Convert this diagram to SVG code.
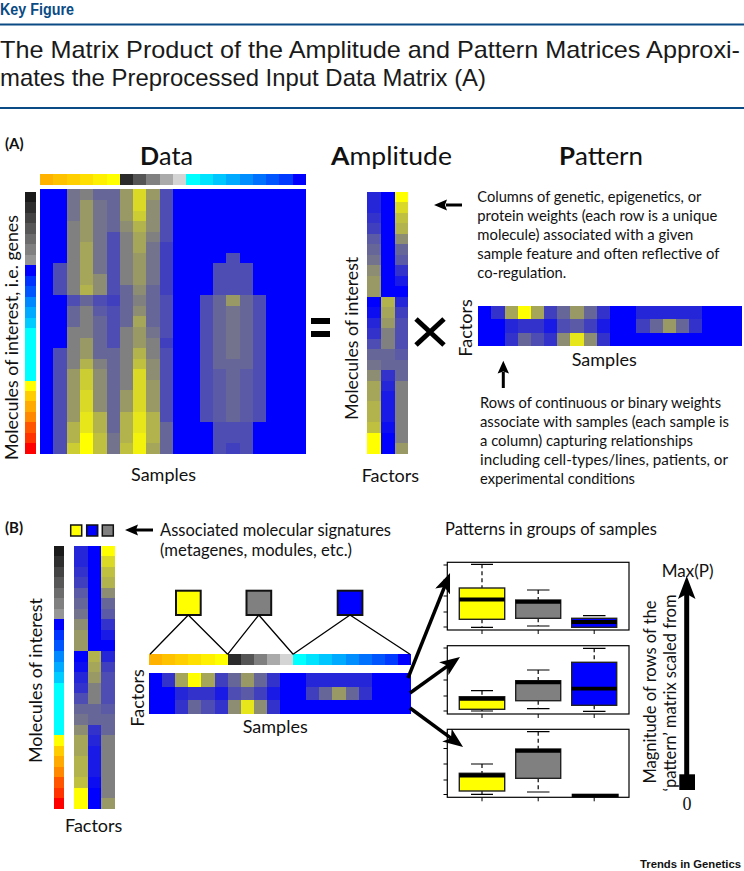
<svg xmlns="http://www.w3.org/2000/svg" width="744" height="871" viewBox="0 0 744 871">
<style>
text{font-family:Lato,"Liberation Sans",sans-serif;fill:#111}
.s15{font-size:15px}
.s17{font-size:17px}
.s18{font-size:18px}
.ttl{font-size:25px}
.hd{font-family:"Liberation Sans",Arial,sans-serif}
.b{font-weight:bold}
.hm{shape-rendering:crispEdges}
.L0{fill:#0000ff}.L05{fill:#0d0df2}.L1{fill:#1a1ae6}.L15{fill:#2626d9}.L2{fill:#3333cc}.L25{fill:#4040bf}
.L3{fill:#4d4db3}.L35{fill:#5a5aa6}.L4{fill:#666699}.L45{fill:#73738d}.L5{fill:#808080}.L55{fill:#8d8d73}
.L6{fill:#999966}.L65{fill:#a6a65a}.L7{fill:#b3b34d}.L75{fill:#c0c040}.L8{fill:#cccc33}.L85{fill:#d9d926}
.L9{fill:#e6e61a}.L95{fill:#f2f20d}.L10{fill:#ffff00}
.frame{fill:#fff;stroke:#000;stroke-width:1.2}
.box{stroke:#222;stroke-width:1.4}
.med{stroke:#000;stroke-width:3.8}
.wh{stroke:#000;stroke-width:1.2;stroke-dasharray:4 3;fill:none}
.cap{stroke:#000;stroke-width:1.2;fill:none}
.tick{stroke:#000;stroke-width:1;fill:none}
.conn{stroke:#000;stroke-width:1.3;fill:none}
.big{stroke:#000;stroke-width:3.5;fill:none;marker-end:url(#ah)}
.sq{stroke:#111;stroke-width:2}
.sqs{stroke:#111;stroke-width:1.5}
</style>
<defs>
<marker id="ah" viewBox="0 0 20 16" markerWidth="20" markerHeight="16" refX="10" refY="8" orient="auto" markerUnits="userSpaceOnUse"><path d="M0,0 L20,8 L0,16 L5,8 Z" fill="#000"/></marker>
<g id="colbar">
<rect x="0" y="0" width="1" height="1" fill="#ffb300"/><rect x="1" y="0" width="1" height="1" fill="#ffc200"/><rect x="2" y="0" width="1" height="1" fill="#ffcf00"/><rect x="3" y="0" width="1" height="1" fill="#ffdf00"/><rect x="4" y="0" width="1" height="1" fill="#ffef00"/><rect x="5" y="0" width="1" height="1" fill="#ffff00"/>
<rect x="6" y="0" width="1" height="1" fill="#2b2b2b"/><rect x="7" y="0" width="1" height="1" fill="#555555"/><rect x="8" y="0" width="1" height="1" fill="#808080"/><rect x="9" y="0" width="1" height="1" fill="#aaaaaa"/><rect x="10" y="0" width="1" height="1" fill="#d4d4d4"/>
<rect x="11" y="0" width="1" height="1" fill="#00ffff"/><rect x="12" y="0" width="1" height="1" fill="#00e3ff"/><rect x="13" y="0" width="1" height="1" fill="#00c6ff"/><rect x="14" y="0" width="1" height="1" fill="#00aaff"/><rect x="15" y="0" width="1" height="1" fill="#008eff"/><rect x="16" y="0" width="1" height="1" fill="#0071ff"/><rect x="17" y="0" width="1" height="1" fill="#0055ff"/><rect x="18" y="0" width="1" height="1" fill="#0039ff"/><rect x="19" y="0" width="1" height="1" fill="#0000ff"/>
</g>
<g id="rowbar">
<rect x="0" y="0" width="1" height="1" fill="#1a1a1a"/><rect x="0" y="1" width="1" height="1" fill="#2e2e2e"/><rect x="0" y="2" width="1" height="1" fill="#434343"/><rect x="0" y="3" width="1" height="1" fill="#575757"/><rect x="0" y="4" width="1" height="1" fill="#6c6c6c"/><rect x="0" y="5" width="1" height="1" fill="#808080"/><rect x="0" y="6" width="1" height="1" fill="#959595"/>
<rect x="0" y="7" width="1" height="1" fill="#0000ff"/><rect x="0" y="8" width="1" height="1" fill="#0033ff"/><rect x="0" y="9" width="1" height="1" fill="#0055ff"/><rect x="0" y="10" width="1" height="1" fill="#0088ff"/><rect x="0" y="11" width="1" height="1" fill="#00aaff"/><rect x="0" y="12" width="1" height="1" fill="#00ccff"/><rect x="0" y="13" width="1" height="5" fill="#00ffff"/>
<rect x="0" y="18" width="1" height="1" fill="#ffff00"/><rect x="0" y="19" width="1" height="1" fill="#ffcc00"/><rect x="0" y="20" width="1" height="1" fill="#ffaa00"/><rect x="0" y="21" width="1" height="1" fill="#ff8800"/><rect x="0" y="22" width="1" height="1" fill="#ff5500"/><rect x="0" y="23" width="1" height="1" fill="#ff3300"/><rect x="0" y="24" width="1" height="1" fill="#ff0000"/>
</g>
<g id="ampcells">
<rect class="L0" x="0" y="0" width="3" height="25"/>
<rect class="L15" x="0" y="0" width="1" height="2"/><rect class="L2" x="0" y="2" width="1" height="1"/><rect class="L25" x="0" y="3" width="1" height="1"/><rect class="L35" x="0" y="4" width="1" height="1"/><rect class="L4" x="0" y="5" width="1" height="1"/><rect class="L45" x="0" y="6" width="1" height="1"/><rect class="L55" x="0" y="7" width="1" height="1"/><rect class="L6" x="0" y="8" width="1" height="2"/><rect class="L05" x="0" y="11" width="1" height="1"/><rect class="L15" x="0" y="12" width="1" height="1"/><rect class="L2" x="0" y="13" width="1" height="1"/><rect class="L3" x="0" y="14" width="1" height="1"/><rect class="L4" x="0" y="15" width="1" height="1"/><rect class="L45" x="0" y="16" width="1" height="1"/><rect class="L55" x="0" y="17" width="1" height="1"/><rect class="L65" x="0" y="18" width="1" height="2"/><rect class="L7" x="0" y="20" width="1" height="2"/><rect class="L75" x="0" y="22" width="1" height="1"/><rect class="L10" x="0" y="23" width="1" height="2"/>
<rect class="L7" x="1" y="10" width="1" height="1"/><rect class="L65" x="1" y="11" width="1" height="1"/><rect class="L6" x="1" y="12" width="1" height="1"/><rect class="L5" x="1" y="13" width="1" height="2"/><rect class="L4" x="1" y="15" width="1" height="2"/><rect class="L2" x="1" y="17" width="1" height="1"/><rect class="L15" x="1" y="18" width="1" height="1"/><rect class="L1" x="1" y="19" width="1" height="3"/><rect class="L05" x="1" y="22" width="1" height="1"/>
<rect class="L10" x="2" y="0" width="1" height="1"/><rect class="L85" x="2" y="1" width="1" height="1"/><rect class="L75" x="2" y="2" width="1" height="1"/><rect class="L7" x="2" y="3" width="1" height="1"/><rect class="L55" x="2" y="4" width="1" height="1"/><rect class="L4" x="2" y="5" width="1" height="1"/><rect class="L35" x="2" y="6" width="1" height="1"/><rect class="L2" x="2" y="7" width="1" height="1"/><rect class="L1" x="2" y="8" width="1" height="1"/><rect class="L15" x="2" y="10" width="1" height="1"/><rect class="L25" x="2" y="11" width="1" height="1"/><rect class="L3" x="2" y="12" width="1" height="3"/><rect class="L35" x="2" y="15" width="1" height="1"/><rect class="L4" x="2" y="16" width="1" height="2"/><rect class="L5" x="2" y="18" width="1" height="6"/><rect class="L6" x="2" y="24" width="1" height="1"/>
</g>
<g id="patcells">
<rect class="L0" x="0" y="0" width="20" height="3"/>
<rect class="L2" x="1" y="0" width="1" height="1"/><rect class="L65" x="2" y="0" width="1" height="1"/><rect class="L10" x="3" y="0" width="1" height="1"/><rect class="L65" x="4" y="0" width="1" height="1"/><rect class="L25" x="5" y="0" width="1" height="1"/><rect class="L4" x="6" y="0" width="1" height="1"/><rect class="L6" x="7" y="0" width="1" height="1"/><rect class="L4" x="8" y="0" width="1" height="1"/><rect class="L2" x="9" y="0" width="1" height="1"/><rect class="L15" x="12" y="0" width="5" height="1"/>
<rect class="L15" x="2" y="1" width="1" height="1"/><rect class="L2" x="3" y="1" width="2" height="1"/><rect class="L1" x="5" y="1" width="1" height="1"/><rect class="L3" x="6" y="1" width="1" height="1"/><rect class="L35" x="7" y="1" width="1" height="1"/><rect class="L25" x="8" y="1" width="1" height="1"/><rect class="L1" x="9" y="1" width="1" height="1"/><rect class="L25" x="12" y="1" width="1" height="1"/><rect class="L4" x="13" y="1" width="1" height="1"/><rect class="L6" x="14" y="1" width="1" height="1"/><rect class="L4" x="15" y="1" width="1" height="1"/><rect class="L2" x="16" y="1" width="1" height="1"/>
<rect class="L2" x="2" y="2" width="1" height="1"/><rect class="L4" x="3" y="2" width="1" height="1"/><rect class="L3" x="4" y="2" width="1" height="1"/><rect class="L2" x="5" y="2" width="1" height="1"/><rect class="L55" x="6" y="2" width="1" height="1"/><rect class="L9" x="7" y="2" width="1" height="1"/><rect class="L55" x="8" y="2" width="1" height="1"/><rect class="L2" x="9" y="2" width="1" height="1"/>
</g>
</defs>

<rect width="744" height="871" fill="#fff"/>

<g id="header">
<text class="hd b" x="0" y="15" font-size="16" style="fill:#0a4b85" textLength="74" lengthAdjust="spacingAndGlyphs">Key Figure</text>
<rect x="0" y="23.5" width="744" height="2" fill="#0a4b85"/>
<text class="hd" x="0" y="58" font-size="24" style="fill:#1a1a1a" textLength="740" lengthAdjust="spacingAndGlyphs">The Matrix Product of the Amplitude and Pattern Matrices Approxi-</text>
<text class="hd" x="0" y="86" font-size="24" style="fill:#1a1a1a" textLength="486" lengthAdjust="spacingAndGlyphs">mates the Preprocessed Input Data Matrix (A)</text>
<rect x="0" y="107" width="744" height="2" fill="#0a4b85"/>
</g>

<g id="panel-a-label"><text class="b" x="5" y="149" font-size="15">(A)</text></g>

<g id="data-title"><text class="ttl" x="140" y="165" textLength="53" lengthAdjust="spacingAndGlyphs"><tspan class="b">D</tspan>ata</text></g>
<g id="amplitude-title"><text class="ttl" x="331" y="165" textLength="121" lengthAdjust="spacingAndGlyphs"><tspan class="b">A</tspan>mplitude</text></g>
<g id="pattern-title"><text class="ttl" x="559" y="165" textLength="84" lengthAdjust="spacingAndGlyphs"><tspan class="b">P</tspan>attern</text></g>

<g id="data-colbar"><use class="hm" href="#colbar" transform="translate(40,174) scale(13.3,11)"/></g>
<g id="data-rowbar"><use class="hm" href="#rowbar" transform="translate(25,191.7) scale(11,10.49)"/></g>

<g id="data-matrix">
<g class="hm" transform="translate(40,189.4) scale(13.3,10.58)">
<rect class="L0" x="0" y="0" width="20" height="25"/>
<rect class="L3" x="1" y="7" width="1" height="3"/><rect class="L3" x="1" y="15" width="1" height="10"/>
<rect class="L45" x="2" y="0" width="1" height="3"/><rect class="L5" x="2" y="3" width="1" height="7"/><rect class="L3" x="2" y="10" width="1" height="1"/><rect class="L4" x="2" y="11" width="1" height="2"/><rect class="L5" x="2" y="13" width="1" height="4"/><rect class="L6" x="2" y="17" width="1" height="5"/><rect class="L7" x="2" y="22" width="1" height="2"/><rect class="L8" x="2" y="24" width="1" height="1"/>
<rect class="L5" x="3" y="0" width="1" height="1"/><rect class="L6" x="3" y="1" width="1" height="4"/><rect class="L65" x="3" y="5" width="1" height="4"/><rect class="L7" x="3" y="9" width="1" height="1"/><rect class="L4" x="3" y="10" width="1" height="1"/><rect class="L5" x="3" y="11" width="1" height="3"/><rect class="L6" x="3" y="14" width="1" height="2"/><rect class="L7" x="3" y="16" width="1" height="1"/><rect class="L8" x="3" y="17" width="1" height="2"/><rect class="L85" x="3" y="19" width="1" height="2"/><rect class="L9" x="3" y="21" width="1" height="2"/><rect class="L10" x="3" y="23" width="1" height="2"/>
<rect class="L4" x="4" y="0" width="1" height="1"/><rect class="L45" x="4" y="1" width="1" height="7"/><rect class="L55" x="4" y="8" width="1" height="2"/><rect class="L3" x="4" y="10" width="1" height="1"/><rect class="L35" x="4" y="11" width="1" height="1"/><rect class="L4" x="4" y="12" width="1" height="4"/><rect class="L5" x="4" y="16" width="1" height="1"/><rect class="L55" x="4" y="17" width="1" height="4"/><rect class="L7" x="4" y="21" width="1" height="2"/><rect class="L75" x="4" y="23" width="1" height="2"/>
<rect class="L4" x="5" y="0" width="1" height="4"/><rect class="L3" x="5" y="4" width="1" height="6"/><rect class="L25" x="5" y="10" width="1" height="1"/><rect class="L3" x="5" y="11" width="1" height="4"/><rect class="L4" x="5" y="15" width="1" height="8"/><rect class="L45" x="5" y="23" width="1" height="2"/>
<rect class="L6" x="6" y="0" width="1" height="3"/><rect class="L55" x="6" y="3" width="1" height="1"/><rect class="L5" x="6" y="4" width="1" height="5"/><rect class="L4" x="6" y="9" width="1" height="4"/><rect class="L5" x="6" y="13" width="1" height="6"/><rect class="L6" x="6" y="19" width="1" height="2"/><rect class="L7" x="6" y="21" width="1" height="3"/><rect class="L75" x="6" y="24" width="1" height="1"/>
<rect class="L85" x="7" y="0" width="1" height="2"/><rect class="L8" x="7" y="2" width="1" height="1"/><rect class="L7" x="7" y="3" width="1" height="1"/><rect class="L65" x="7" y="4" width="1" height="2"/><rect class="L6" x="7" y="6" width="1" height="3"/><rect class="L55" x="7" y="9" width="1" height="1"/><rect class="L5" x="7" y="10" width="1" height="1"/><rect class="L55" x="7" y="11" width="1" height="1"/><rect class="L65" x="7" y="12" width="1" height="1"/><rect class="L6" x="7" y="13" width="1" height="2"/><rect class="L7" x="7" y="15" width="1" height="1"/><rect class="L75" x="7" y="16" width="1" height="1"/><rect class="L85" x="7" y="17" width="1" height="4"/><rect class="L9" x="7" y="21" width="1" height="2"/><rect class="L95" x="7" y="23" width="1" height="2"/>
<rect class="L6" x="8" y="0" width="1" height="1"/><rect class="L55" x="8" y="1" width="1" height="3"/><rect class="L5" x="8" y="4" width="1" height="1"/><rect class="L45" x="8" y="5" width="1" height="4"/><rect class="L4" x="8" y="9" width="1" height="4"/><rect class="L45" x="8" y="13" width="1" height="1"/><rect class="L5" x="8" y="14" width="1" height="2"/><rect class="L55" x="8" y="16" width="1" height="2"/><rect class="L6" x="8" y="18" width="1" height="3"/><rect class="L7" x="8" y="21" width="1" height="3"/><rect class="L65" x="8" y="24" width="1" height="1"/>
<rect class="L3" x="9" y="0" width="1" height="5"/><rect class="L25" x="9" y="5" width="1" height="5"/><rect class="L3" x="9" y="10" width="1" height="4"/><rect class="L25" x="9" y="14" width="1" height="1"/><rect class="L3" x="9" y="15" width="1" height="7"/><rect class="L4" x="9" y="22" width="1" height="3"/>
<rect class="L3" x="12" y="10" width="1" height="12"/>
<rect class="L3" x="13" y="7" width="1" height="3"/><rect class="L4" x="13" y="10" width="1" height="7"/><rect class="L35" x="13" y="17" width="1" height="5"/><rect class="L3" x="13" y="22" width="1" height="3"/>
<rect class="L3" x="14" y="6" width="1" height="4"/><rect class="L6" x="14" y="10" width="1" height="1"/><rect class="L45" x="14" y="11" width="1" height="5"/><rect class="L4" x="14" y="16" width="1" height="6"/><rect class="L3" x="14" y="22" width="1" height="2"/><rect class="L25" x="14" y="24" width="1" height="1"/>
<rect class="L3" x="15" y="7" width="1" height="3"/><rect class="L4" x="15" y="10" width="1" height="7"/><rect class="L35" x="15" y="17" width="1" height="5"/><rect class="L3" x="15" y="22" width="1" height="3"/>
<rect class="L3" x="16" y="10" width="1" height="12"/>
</g>
</g>

<g id="data-ylabel"><text transform="translate(17.5,337.5) rotate(-90)" text-anchor="middle" font-size="17.5" textLength="245" lengthAdjust="spacingAndGlyphs">Molecules of interest, i.e. genes</text></g>
<g id="data-xlabel"><text class="s18" x="131" y="481">Samples</text></g>

<g id="equals"><rect x="311" y="318" width="19" height="6" fill="#000"/><rect x="311" y="331" width="19" height="6" fill="#000"/></g>

<g id="amplitude-matrix"><use class="hm" href="#ampcells" transform="translate(367.3,191.7) scale(13.67,10.49)"/></g>
<g id="amp-ylabel"><text class="s18" transform="translate(358,338.3) rotate(-90)" text-anchor="middle" textLength="163" lengthAdjust="spacingAndGlyphs">Molecules of interest</text></g>
<g id="amp-xlabel"><text class="s18" x="361.7" y="481.7">Factors</text></g>

<g id="times"><path d="M416,319 L444,345 M444,319 L416,345" stroke="#000" stroke-width="5" fill="none"/></g>

<g id="pattern-matrix"><use class="hm" href="#patcells" transform="translate(478.3,305.7) scale(13.17,13.43)"/></g>
<g id="pat-ylabel"><text class="s18" transform="translate(471.7,328) rotate(-90)" text-anchor="middle">Factors</text></g>
<g id="pat-xlabel"><text class="s18" x="571.7" y="366">Samples</text></g>

<g id="amp-note">
<text class="s15" x="477.3" y="201.5" textLength="224" lengthAdjust="spacingAndGlyphs">Columns of genetic, epigenetics, or</text>
<text class="s15" x="477.3" y="220.5" textLength="240" lengthAdjust="spacingAndGlyphs">protein weights (each row is a unique</text>
<text class="s15" x="477.3" y="239.5" textLength="216" lengthAdjust="spacingAndGlyphs">molecule) associated with a given</text>
<text class="s15" x="477.3" y="258.5" textLength="242" lengthAdjust="spacingAndGlyphs">sample feature and often reflective of</text>
<text class="s15" x="477.3" y="277.5" textLength="89" lengthAdjust="spacingAndGlyphs">co-regulation.</text>
</g>
<g id="pat-note">
<text class="s15" x="480" y="407.5" textLength="241" lengthAdjust="spacingAndGlyphs">Rows of continuous or binary weights</text>
<text class="s15" x="480" y="426.5" textLength="249" lengthAdjust="spacingAndGlyphs">associate with samples (each sample is</text>
<text class="s15" x="480" y="445.5" textLength="213" lengthAdjust="spacingAndGlyphs">a column) capturing relationships</text>
<text class="s15" x="480" y="464.5" textLength="248" lengthAdjust="spacingAndGlyphs">including cell-types/lines, patients, or</text>
<text class="s15" x="480" y="483.5" textLength="155" lengthAdjust="spacingAndGlyphs">experimental conditions</text>
</g>

<g id="panel-b-label"><text class="b" x="5" y="533" font-size="15">(B)</text></g>
<g id="signature-keys">
<rect class="sqs" x="70.7" y="525" width="11" height="11" fill="#ffff00"/>
<rect class="sqs" x="86.7" y="525" width="11" height="11" fill="#0000ff"/>
<rect class="sqs" x="102.3" y="525" width="11" height="11" fill="#808080"/>
</g>
<g id="signature-note">
<text class="s17" x="160" y="536" textLength="231" lengthAdjust="spacingAndGlyphs">Associated molecular signatures</text>
<text class="s17" x="160" y="556" textLength="192" lengthAdjust="spacingAndGlyphs">(metagenes, modules, etc.)</text>
</g>
<g id="groups-title"><text class="s17" x="445" y="535" textLength="212" lengthAdjust="spacingAndGlyphs">Patterns in groups of samples</text></g>

<g id="b-rowbar"><use class="hm" href="#rowbar" transform="translate(54,545.7) scale(10.3,10.53)"/></g>
<g id="b-amplitude-matrix"><use class="hm" href="#ampcells" transform="translate(74,545.7) scale(13.67,10.53)"/></g>
<g id="b-ylabel"><text class="s18" transform="translate(41.5,680.5) rotate(-90)" text-anchor="middle" textLength="165" lengthAdjust="spacingAndGlyphs">Molecules of interest</text></g>
<g id="b-amp-xlabel"><text class="s18" x="65" y="831.7">Factors</text></g>

<g id="group-yellow"><rect class="sq" x="176" y="590.7" width="24.7" height="24.3" fill="#ffff00"/></g>
<g id="group-gray"><rect class="sq" x="246.5" y="590.7" width="24.7" height="24.3" fill="#808080"/></g>
<g id="group-blue"><rect class="sq" x="337.7" y="590.7" width="24.7" height="24.3" fill="#0000ff"/></g>

<g id="b-colbar"><use class="hm" href="#colbar" transform="translate(149,654.3) scale(13.1,10.7)"/></g>
<g id="b-pattern-matrix"><use class="hm" href="#patcells" transform="translate(149,673.3) scale(13.1,13.57)"/></g>
<g id="b-pat-ylabel"><text class="s18" transform="translate(144,698) rotate(-90)" text-anchor="middle">Factors</text></g>
<g id="b-pat-xlabel"><text class="s18" x="242.7" y="733.3">Samples</text></g>

<g id="boxplot-1">
<rect class="frame" x="447.3" y="562.3" width="181.7" height="67.7"/>
<path class="tick" d="M443.5 565H447.3M443.5 580H447.3M443.5 596H447.3M443.5 612H447.3M443.5 627H447.3M482 630V634M538.2 630V634M594.2 630V634"/>
<path class="wh" d="M482 564.3V588M482 619.3V627.3M538.2 590V600M538.2 618.3V626"/>
<path class="cap" d="M471 564.3H493M471 627.3H493M527 590H549.5M527 626H549.5M583 615.7H605.5M583 627.5H605.5"/>
<rect class="box" x="459.3" y="588" width="45.4" height="31.3" fill="#ffff00"/>
<rect class="box" x="515.7" y="600" width="45" height="18.3" fill="#808080"/>
<rect class="box" x="571.7" y="618.3" width="45" height="9" fill="#0000ff"/>
<path class="med" d="M459.3 599.5H504.7M515.7 601.8H560.7M571.7 622H616.7"/>
</g>
<g id="boxplot-2">
<rect class="frame" x="447.3" y="645.7" width="181.7" height="68.3"/>
<path class="tick" d="M443.5 648H447.3M443.5 663H447.3M443.5 680H447.3M443.5 696H447.3M443.5 711H447.3M482 714V718M538.2 714V718M594.2 714V718"/>
<path class="wh" d="M482 690.7V696.7M482 709.3V711M538.2 670V680.7M538.2 700.7V708.7M594.2 648.3V662.3M594.2 705.3V711.3"/>
<path class="cap" d="M471 690.7H493M471 711H493M527 670H549.5M527 708.7H549.5M583 648.3H605.5M583 711.3H605.5"/>
<rect class="box" x="459.3" y="696.7" width="45.4" height="12.6" fill="#ffff00"/>
<rect class="box" x="515.7" y="680.7" width="45" height="20" fill="#808080"/>
<rect class="box" x="571.7" y="662.3" width="45" height="43" fill="#0000ff"/>
<path class="med" d="M459.3 698.8H504.7M515.7 682.4H560.7M571.7 688.7H616.7"/>
</g>
<g id="boxplot-3">
<rect class="frame" x="447.3" y="729.3" width="181.7" height="68"/>
<path class="tick" d="M443.5 733H447.3M443.5 748.5H447.3M443.5 764H447.3M443.5 780H447.3M443.5 794.5H447.3M482 797.3V801.3M538.2 797.3V801.3M594.2 797.3V801.3"/>
<path class="wh" d="M482 764V773.3M482 791V794.3M538.2 731.7V749M538.2 778.3V792"/>
<path class="cap" d="M471 764H493M471 794.3H493M527 731.7H549.5M527 792H549.5"/>
<rect class="box" x="459.3" y="773.3" width="45.4" height="17.7" fill="#ffff00"/>
<rect class="box" x="515.7" y="749" width="45" height="29.3" fill="#808080"/>
<path class="med" d="M459.3 775.5H504.7M515.7 750.8H560.7"/>
<rect x="571.7" y="793.7" width="47" height="3.6" fill="#000"/>
</g>

<g id="scale-axis">
<text class="s17" x="661.7" y="576.5">Max(P)</text>
<rect x="684.2" y="592" width="5" height="184" fill="#000"/>
<polygon points="686.7,576 695.5,599 686.7,594 678,599" fill="#000"/>
<rect x="679.3" y="774.3" width="15.7" height="15.7" fill="#000"/>
<text x="687" y="810" text-anchor="middle" style="font-family:'Liberation Serif',serif;font-size:18px">0</text>
<text class="s17" transform="translate(656,692) rotate(-90)" text-anchor="middle" textLength="183" lengthAdjust="spacingAndGlyphs">Magnitude of rows of the</text>
<text class="s17" transform="translate(676,693) rotate(-90)" text-anchor="middle" textLength="197" lengthAdjust="spacingAndGlyphs">‘pattern’ matrix scaled from</text>
</g>

<g id="connectors">
<g id="arrow-amp-note"><path d="M446,205H462" stroke="#000" stroke-width="3" fill="none"/><polygon points="434,205 447,199.5 445,205 447,210.5" fill="#000"/></g>
<g id="arrow-pat-note"><path d="M503.3,372V388" stroke="#000" stroke-width="3" fill="none"/><polygon points="503.3,360.7 509,373.5 503.3,371.5 497.6,373.5" fill="#000"/></g>
<g id="arrow-signatures"><path d="M136,530H153" stroke="#000" stroke-width="3" fill="none"/><polygon points="125,530 138,524.5 136,530 138,535.5" fill="#000"/></g>
<path class="conn" d="M188.3,615 L150,654.3 M188.3,615 L227.6,654.3 M258.8,615 L227.6,654.3 M258.8,615 L293.1,654.3 M350,615 L293.1,654.3 M350,615 L410,654.3"/>
<path class="big" d="M408,678 L446.3,582.3"/>
<path class="big" d="M410,693 L451.9,662.8"/>
<path class="big" d="M410,708 L455,741.1"/>
</g>

<g id="footer"><text class="hd b" x="640" y="868" font-size="11" textLength="101" lengthAdjust="spacingAndGlyphs">Trends in Genetics</text></g>
</svg>
